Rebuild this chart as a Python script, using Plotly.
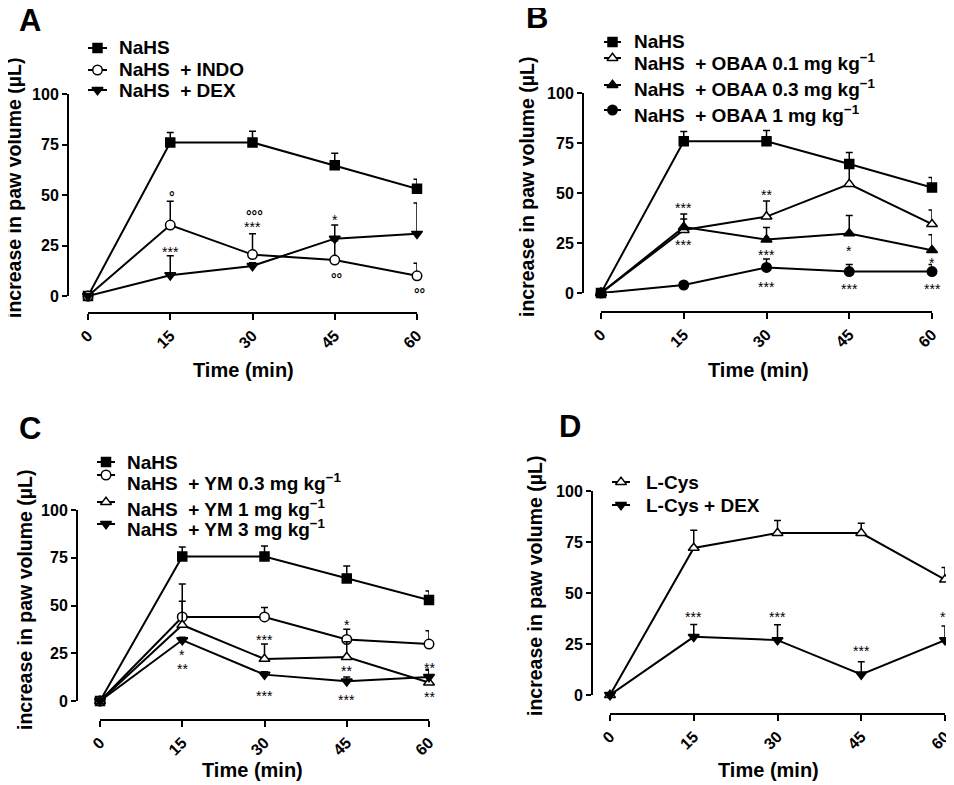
import plotly.graph_objects as go

W, H = 954, 785
OFF = 8  # the page places the figure 8 px from the window's top-left corner
FONT = "Liberation Sans, Arial, Helvetica, sans-serif"

# ---------------- data ----------------
time = [0, 15, 30, 45, 60]
yticks = [0, 25, 50, 75, 100]
xticks = [0, 15, 30, 45, 60]

# Panel A
A_nahs = [0, 76.0, 76.0, 64.7, 53.1]
A_nahs_err = [0, 5.0, 5.5, 6.0, 4.7]
A_indo = [0, 35.1, 20.5, 17.8, 10.0]
A_indo_err = [0, 11.8, 10.3, 9.5, 6.2]
A_dex = [0, 10.3, 14.9, 28.4, 30.8]
A_dex_err = [0, 9.6, 1.5, 6.7, 15.2]

# Panel B
B_nahs = [0, 75.9, 75.9, 64.5, 52.7]
B_nahs_err = [0, 4.9, 5.4, 5.7, 5.0]
B_obaa01 = [0, 31.5, 38.2, 54.5, 34.4]
B_obaa01_err = [0, 8.0, 7.8, 9.0, 7.1]
B_obaa03 = [0, 33.0, 26.7, 29.8, 21.4]
B_obaa03_err = [0, 4.0, 6.0, 9.0, 7.7]
B_obaa1 = [0, 4.0, 12.8, 10.7, 10.7]
B_obaa1_err = [0, 1.0, 4.2, 3.5, 3.5]

# Panel C
C_nahs = [0, 75.7, 75.7, 64.2, 52.9]
C_nahs_err = [0, 4.9, 5.5, 6.5, 4.7]
C_ym03 = [0, 44.0, 44.0, 32.2, 29.8]
C_ym03_err = [0, 17.3, 5.0, 5.4, 7.0]
C_ym1 = [0, 39.8, 22.0, 23.0, 9.6]
C_ym1_err = [0, 12.4, 7.8, 8.0, 7.0]
C_ym3 = [0, 31.9, 13.8, 10.3, 12.6]
C_ym3_err = [0, 1.5, 1.5, 2.3, 3.5]

# Panel D
D_lcys = [0, 72.1, 79.4, 79.4, 56.6]
D_lcys_err = [0, 8.7, 6.2, 4.8, 5.9]
D_lcys_dex = [0, 28.5, 26.9, 10.1, 26.9]
D_lcys_dex_err = [0, 6.1, 7.5, 6.2, 6.9]

# significance labels: (time, y position, text)
A_sig = [(15, 51.2, "°"), (30, 41.4, "°°°"), (30, 35.9, "***"), (15, 24.0, "***"),
         (45, 39.6, "*"), (45, 10.3, "°°"), (60, 3.1, "°°")]
B_sig = [(15, 44.5, "***"), (15, 25.8, "***"), (15, -1.7, "***"), (30, 51.0, "**"),
         (30, 21.1, "***"), (30, 5.2, "***"), (45, 23.1, "*"), (45, 3.8, "***"),
         (60, 17.0, "*"), (60, 3.9, "***")]
C_sig = [(15, 26.2, "*"), (15, 18.8, "**"), (30, 34.2, "***"), (30, 4.9, "***"),
         (45, 42.0, "*"), (45, 18.0, "**"), (45, 2.7, "***"), (60, 19.5, "**"),
         (60, 4.3, "**")]
D_sig = [(15, 40.0, "***"), (30, 40.0, "***"), (45, 23.7, "***"), (60, 40.0, "**")]

MGKG = "mg kg<sup>\u22121</sup>"
SP = "\u00a0\u00a0"

panels = [
    dict(letter="A",
         series=[("NaHS", A_nahs, A_nahs_err, "square", True),
                 ("NaHS" + SP + "+ INDO", A_indo, A_indo_err, "circle", False),
                 ("NaHS" + SP + "+ DEX", A_dex, A_dex_err, "triangle-down", True)],
         sig=A_sig),
    dict(letter="B",
         series=[("NaHS", B_nahs, B_nahs_err, "square", True),
                 ("NaHS" + SP + "+ OBAA 0.1 " + MGKG, B_obaa01, B_obaa01_err, "triangle-up", False),
                 ("NaHS" + SP + "+ OBAA 0.3 " + MGKG, B_obaa03, B_obaa03_err, "triangle-up", True),
                 ("NaHS" + SP + "+ OBAA 1 " + MGKG, B_obaa1, B_obaa1_err, "circle", True)],
         sig=B_sig),
    dict(letter="C",
         series=[("NaHS", C_nahs, C_nahs_err, "square", True),
                 ("NaHS" + SP + "+ YM 0.3 " + MGKG, C_ym03, C_ym03_err, "circle", False),
                 ("NaHS" + SP + "+ YM 1 " + MGKG, C_ym1, C_ym1_err, "triangle-up", False),
                 ("NaHS" + SP + "+ YM 3 " + MGKG, C_ym3, C_ym3_err, "triangle-down", True)],
         sig=C_sig),
    dict(letter="D",
         series=[("L-Cys", D_lcys, D_lcys_err, "triangle-up", False),
                 ("L-Cys + DEX", D_lcys_dex, D_lcys_dex_err, "triangle-down", True)],
         sig=D_sig),
]

# ---------------- layout geometry (window pixels) ----------------
geom = [
    dict(x0=88, x60=417, y0=296, y100=94, yax=68, xax=313,
         letter=(30, 21), ytitle=(14, 188), xtitle=(243, 370),
         lg_sx=(88, 107), lg_tx=117, lg_sy=[48, 70, 90], lg_ty=[48, 70, 91]),
    dict(x0=601, x60=932, y0=293, y100=93, yax=583, xax=312,
         letter=(537, 18), ytitle=(527, 187), xtitle=(758, 370),
         lg_sx=(604, 621), lg_tx=632, lg_sy=[42, 58, 85, 110], lg_ty=[42, 62, 88, 114]),
    dict(x0=100, x60=429, y0=701, y100=510, yax=77, xax=720,
         letter=(30, 428), ytitle=(25, 600), xtitle=(253, 770),
         lg_sx=(97, 115), lg_tx=125, lg_sy=[462, 475, 502, 524], lg_ty=[462, 482, 508, 528]),
    dict(x0=610, x60=945, y0=695, y100=491, yax=592, xax=714,
         letter=(570, 426), ytitle=(535, 586), xtitle=(768, 770),
         lg_sx=(612, 630), lg_tx=644, lg_sy=[482, 505], lg_ty=[482, 505]),
]


def px(x):
    return (x - OFF) / W


def py(y):
    return 1 - (y - OFF) / H


fig = go.Figure()
layout = dict(
    template="none",
    width=W, height=H, margin=dict(l=0, r=0, t=0, b=0, autoexpand=False),
    paper_bgcolor="white", plot_bgcolor="rgba(0,0,0,0)",
    showlegend=False, font=dict(family=FONT, color="black"),
)
annotations = []

SIZES = {"square": 9, "circle": 9.5, "triangle-up": 9.5, "triangle-down": 9.5}

for i, (p, g) in enumerate(zip(panels, geom)):
    n = i + 1
    xa = "x" if n == 1 else f"x{n}"
    ya = "y" if n == 1 else f"y{n}"
    xk = "xaxis" if n == 1 else f"xaxis{n}"
    yk = "yaxis" if n == 1 else f"yaxis{n}"
    layout[xk] = dict(
        domain=[px(g["x0"]), px(g["x60"])], range=[0, 60], anchor="free",
        position=py(g["xax"]), tickmode="array", tickvals=xticks,
        ticktext=[str(v) for v in xticks], tickangle=-45, ticks="outside",
        ticklen=6, tickwidth=2, tickcolor="black", showline=True, linewidth=2,
        linecolor="black", showgrid=False, zeroline=False, automargin=False,
        tickfont=dict(family=FONT, size=16, color="black", weight="bold"),
    )
    layout[yk] = dict(
        domain=[py(g["y0"]), py(g["y100"])], range=[0, 100], anchor="free",
        position=px(g["yax"]), tickmode="array", tickvals=yticks,
        ticktext=[str(v) for v in yticks], ticks="outside", ticklen=5,
        tickwidth=2, tickcolor="black", showline=True, linewidth=2,
        linecolor="black", showgrid=False, zeroline=False, automargin=False,
        tickfont=dict(family=FONT, size=16, color="black", weight="bold"),
    )
    for name, vals, errs, sym, filled in p["series"]:
        fig.add_trace(go.Scatter(
            x=time, y=vals, xaxis=xa, yaxis=ya, mode="lines+markers", name=name,
            line=dict(color="black", width=2),
            marker=dict(symbol=sym, size=SIZES[sym],
                        color="black" if filled else "white",
                        line=dict(color="black", width=1.5)),
            error_y=dict(type="data", array=errs, arrayminus=[0] * len(errs),
                         symmetric=False, color="black", thickness=1.5, width=3.5),
            cliponaxis=False,
        ))
    for tx, ty, txt in p["sig"]:
        is_deg = "°" in txt
        annotations.append(dict(
            x=tx, y=ty, xref=xa, yref=ya, text=txt, showarrow=False,
            xanchor="center", yanchor="middle", yshift=-4,
            xshift=2 if is_deg else 0,
            font=dict(family=FONT, size=14, color="black",
                      weight="bold" if is_deg else "normal"),
        ))
    # panel letter
    annotations.append(dict(
        x=px(g["letter"][0]), y=py(g["letter"][1]), xref="paper", yref="paper",
        text=p["letter"], showarrow=False, xanchor="center", yanchor="middle",
        font=dict(family=FONT, size=31, color="black", weight="bold"),
    ))
    # axis titles
    annotations.append(dict(
        x=px(g["ytitle"][0]), y=py(g["ytitle"][1]), xref="paper", yref="paper",
        text="increase in paw volume (\u00b5L)", textangle=-90, showarrow=False,
        xanchor="center", yanchor="middle",
        font=dict(family=FONT, size=19.5, color="black", weight="bold"),
    ))
    annotations.append(dict(
        x=px(g["xtitle"][0]), y=py(g["xtitle"][1]), xref="paper", yref="paper",
        text="Time (min)", showarrow=False, xanchor="center", yanchor="middle",
        font=dict(family=FONT, size=20, color="black", weight="bold"),
    ))
    # legend (drawn on a full-page overlay axis in window-pixel units)
    sx0, sx1 = g["lg_sx"]
    for (name, vals, errs, sym, filled), sy, ty in zip(p["series"], g["lg_sy"], g["lg_ty"]):
        fig.add_trace(go.Scatter(
            x=[sx0, sx1], y=[sy, sy], xaxis="x5", yaxis="y5", mode="lines",
            line=dict(color="black", width=2), hoverinfo="skip",
        ))
        fig.add_trace(go.Scatter(
            x=[(sx0 + sx1) / 2], y=[sy], xaxis="x5", yaxis="y5", mode="markers",
            marker=dict(symbol=sym, size=SIZES[sym],
                        color="black" if filled else "white",
                        line=dict(color="black", width=1.5)),
            hoverinfo="skip", cliponaxis=False,
        ))
        annotations.append(dict(
            x=px(g["lg_tx"]), y=py(ty), xref="paper", yref="paper", text=name,
            showarrow=False, xanchor="left", yanchor="middle",
            font=dict(family=FONT, size=19, color="black", weight="bold"),
        ))

layout["xaxis5"] = dict(domain=[0, 1], range=[OFF, W + OFF], anchor="y5", visible=False,
                        fixedrange=True, automargin=False)
layout["yaxis5"] = dict(domain=[0, 1], range=[H + OFF, OFF], anchor="x5", visible=False,
                        fixedrange=True, automargin=False)
layout["annotations"] = annotations
fig.update_layout(**layout)
fig.write_html("out.html")
